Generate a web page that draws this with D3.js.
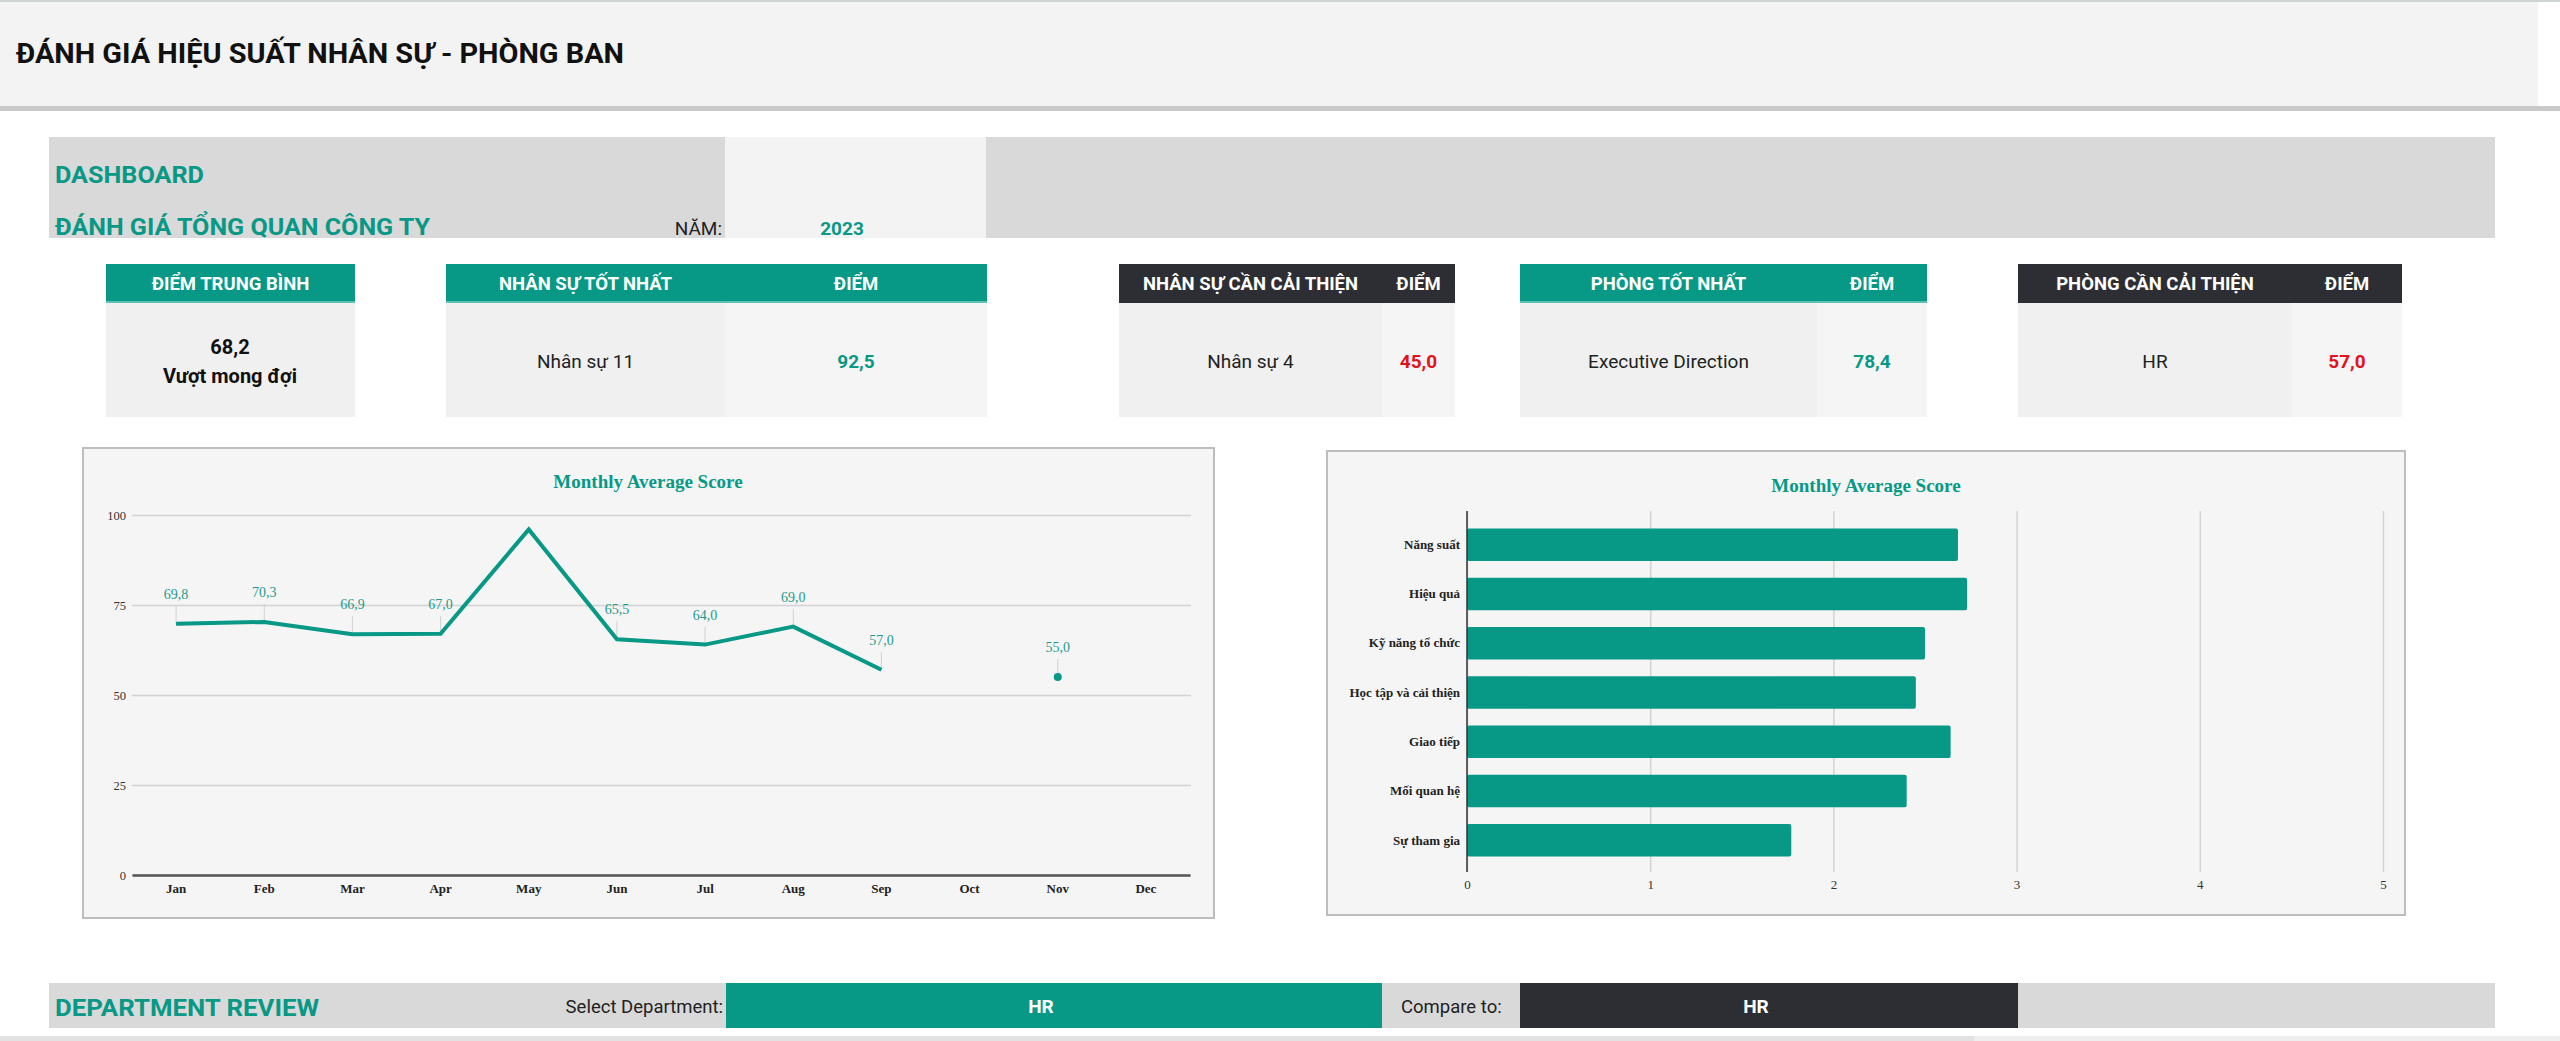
<!DOCTYPE html>
<html>
<head>
<meta charset="utf-8">
<script src="https://cdn.jsdelivr.net/npm/d3@7"></script>
<style>
  html, body { margin: 0; padding: 0; background: #fff; }
  svg { display: block; }
</style>
</head>
<body>
<svg id="dash"></svg>
<script>
// data
var months = ['Jan','Feb','Mar','Apr','May','Jun','Jul','Aug','Sep','Oct','Nov','Dec'];
var monthlyScores = [69.8, 70.3, 66.9, 67.0, 96.0, 65.5, 64.0, 69.0, 57.0, null, 55.0, null];
var unlabelledMonths = ['May'];
var yTicks = [0, 25, 50, 75, 100];

var criteria = ['Năng suất', 'Hiệu quả', 'Kỹ năng tổ chức', 'Học tập và cải thiện', 'Giao tiếp', 'Mối quan hệ', 'Sự tham gia'];
var criteriaScores = [2.68, 2.73, 2.50, 2.45, 2.64, 2.40, 1.77];
var xTicks = [0, 1, 2, 3, 4, 5];

var cardTitles = ['NHÂN SỰ TỐT NHẤT', 'NHÂN SỰ CẦN CẢI THIỆN', 'PHÒNG TỐT NHẤT', 'PHÒNG CẦN CẢI THIỆN'];
var cardNames = ['Nhân sự 11', 'Nhân sự 4', 'Executive Direction', 'HR'];
var cardScores = [92.5, 45.0, 78.4, 57.0];
var cardGood = [true, false, true, false];

var avgScore = 68.2;
var avgRating = 'Vượt mong đợi';
var year = 2023;
var selectedDept = 'HR';
var compareDept = 'HR';

var W = 2560, H = 1041;
var TEAL = '#079886', DARK = '#2d2e33', RED = '#e3121c';
var SANS = 'Roboto, "Noto Sans", sans-serif';
var SERIF = '"Liberation Serif", "DejaVu Serif", serif';

var vn = d3.formatLocale({decimal: ',', thousands: '.', grouping: [3], currency: ['', '']});
var fmt1 = vn.format('.1f');

var svg = d3.select('#dash').attr('width', W).attr('height', H)
    .style('font-family', SANS);

// header band
svg.append('rect').attr('x', 0).attr('y', 0).attr('width', W).attr('height', 2).attr('fill', '#cfd3d1');
svg.append('rect').attr('x', 0).attr('y', 2).attr('width', 2538).attr('height', 104).attr('fill', '#f3f3f3');
svg.append('rect').attr('x', 0).attr('y', 106).attr('width', W).attr('height', 5).attr('fill', '#c9c9c9');
svg.append('text').attr('x', 16).attr('y', 63)
    .attr('font-size', 28).attr('font-weight', 700).attr('fill', '#111')
    .attr('textLength', 608).attr('lengthAdjust', 'spacingAndGlyphs')
    .text('ĐÁNH GIÁ HIỆU SUẤT NHÂN SỰ - PHÒNG BAN');

// dashboard band
svg.append('rect').attr('x', 49).attr('y', 137).attr('width', 676).attr('height', 101).attr('fill', '#d9d9d9');
svg.append('rect').attr('x', 725).attr('y', 137).attr('width', 261).attr('height', 101).attr('fill', '#f3f3f3');
svg.append('rect').attr('x', 986).attr('y', 137).attr('width', 1509).attr('height', 101).attr('fill', '#d9d9d9');
svg.append('text').attr('x', 55).attr('y', 183)
    .attr('font-size', 24).attr('font-weight', 700).attr('fill', TEAL)
    .attr('textLength', 149).attr('lengthAdjust', 'spacingAndGlyphs')
    .text('DASHBOARD');
svg.append('text').attr('x', 55).attr('y', 235)
    .attr('font-size', 24).attr('font-weight', 700).attr('fill', TEAL)
    .attr('textLength', 375).attr('lengthAdjust', 'spacingAndGlyphs')
    .text('ĐÁNH GIÁ TỔNG QUAN CÔNG TY');
svg.append('text').attr('x', 722).attr('y', 235).attr('text-anchor', 'end')
    .attr('font-size', 19).attr('fill', '#222').text('NĂM:');
svg.append('text').attr('x', 842).attr('y', 235).attr('text-anchor', 'middle')
    .attr('font-size', 19).attr('font-weight', 700).attr('fill', TEAL).text(year);

// KPI cards
var HEAD_Y = 264, HEAD_H = 39, BODY_H = 114;

function cardHead(x, w, fill, label) {
    svg.append('rect').attr('x', x).attr('y', HEAD_Y).attr('width', w).attr('height', HEAD_H).attr('fill', fill);
    svg.append('text').attr('x', x + w / 2).attr('y', HEAD_Y + HEAD_H / 2).attr('dy', '0.36em')
        .attr('text-anchor', 'middle').attr('font-size', 18.5).attr('font-weight', 700)
        .attr('fill', '#fff').text(label);
}

// average score card
cardHead(106, 249, TEAL, 'ĐIỂM TRUNG BÌNH');
svg.append('rect').attr('x', 106).attr('y', HEAD_Y + HEAD_H - 2).attr('width', 249).attr('height', 2).attr('fill', '#5bc1b4');
svg.append('rect').attr('x', 106).attr('y', HEAD_Y + HEAD_H).attr('width', 249).attr('height', BODY_H).attr('fill', '#f0f0f0');
svg.append('text').attr('x', 230).attr('y', 347).attr('dy', '0.36em').attr('text-anchor', 'middle')
    .attr('font-size', 20).attr('font-weight', 700).attr('fill', '#111').text(fmt1(avgScore));
svg.append('text').attr('x', 230).attr('y', 376).attr('dy', '0.36em').attr('text-anchor', 'middle')
    .attr('font-size', 20).attr('font-weight', 700).attr('fill', '#111').text(avgRating);

// name / score cards: [left, split, right]
var cardBoxes = [[446, 725, 987], [1119, 1382, 1455], [1520, 1817, 1927], [2018, 2292, 2402]];
cardTitles.forEach(function(title, i) {
    var b = cardBoxes[i];
    var fill = cardGood[i] ? TEAL : DARK;
    cardHead(b[0], b[1] - b[0], fill, title);
    cardHead(b[1], b[2] - b[1], fill, 'ĐIỂM');
    if (cardGood[i]) {
        svg.append('rect').attr('x', b[0]).attr('y', HEAD_Y + HEAD_H - 2).attr('width', b[2] - b[0]).attr('height', 2).attr('fill', '#5bc1b4');
    }
    svg.append('rect').attr('x', b[0]).attr('y', HEAD_Y + HEAD_H).attr('width', b[1] - b[0]).attr('height', BODY_H).attr('fill', '#f0f0f0');
    svg.append('rect').attr('x', b[1]).attr('y', HEAD_Y + HEAD_H).attr('width', b[2] - b[1]).attr('height', BODY_H).attr('fill', '#f5f5f5');
    svg.append('text').attr('x', (b[0] + b[1]) / 2).attr('y', 361).attr('dy', '0.36em').attr('text-anchor', 'middle')
        .attr('font-size', 19).attr('fill', '#222').text(cardNames[i]);
    svg.append('text').attr('x', (b[1] + b[2]) / 2).attr('y', 361).attr('dy', '0.36em').attr('text-anchor', 'middle')
        .attr('font-size', 19).attr('font-weight', 700).attr('fill', cardGood[i] ? TEAL : RED).text(fmt1(cardScores[i]));
});

// line chart: monthly average score
var lc = svg.append('g');
lc.append('rect').attr('x', 83).attr('y', 448).attr('width', 1131).attr('height', 470)
    .attr('fill', '#f5f5f5').attr('stroke', '#bdbdbd').attr('stroke-width', 2);
lc.append('text').attr('x', 648).attr('y', 488).attr('text-anchor', 'middle')
    .attr('font-family', SERIF).attr('font-size', 19).attr('font-weight', 700).attr('fill', TEAL)
    .text('Monthly Average Score');

var x = d3.scaleBand().domain(months).range([132, 1190]);
var y = d3.scaleLinear().domain([0, 100]).range([875, 515]);

lc.append('g').attr('transform', 'translate(132,0)')
    .call(d3.axisLeft(y).tickValues(yTicks).tickSize(-(1191 - 132)).tickPadding(6))
    .call(function(g) {
        g.select('.domain').remove();
        g.selectAll('.tick line').attr('stroke', '#d3d3d3').attr('stroke-width', 1.5);
        g.selectAll('.tick text').attr('font-family', SERIF).attr('font-size', 12.5).attr('fill', '#333');
    });
lc.append('g').attr('transform', 'translate(0,875)')
    .call(d3.axisBottom(x).tickSize(0).tickPadding(9))
    .call(function(g) {
        g.select('.domain').attr('stroke', '#555').attr('stroke-width', 2.5);
        g.selectAll('.tick text').attr('font-family', SERIF).attr('font-size', 13)
            .attr('font-weight', 700).attr('fill', '#222');
    });

var pts = months.map(function(m, i) { return {m: m, v: monthlyScores[i], i: i}; });
var cx = function(d) { return x(d.m) + x.bandwidth() / 2; };
var line = d3.line().defined(function(d) { return d.v != null; })
    .x(cx).y(function(d) { return y(d.v); });

var labelled = pts.filter(function(d) { return d.v != null && unlabelledMonths.indexOf(d.m) < 0; });
lc.selectAll('line.leader').data(labelled).enter().append('line')
    .attr('class', 'leader')
    .attr('x1', cx).attr('x2', cx)
    .attr('y1', function(d) { return y(d.v) - 18; })
    .attr('y2', function(d) { return y(d.v); })
    .attr('stroke', '#d0d0d0').attr('stroke-width', 1);

lc.append('path').datum(pts).attr('d', line)
    .attr('fill', 'none').attr('stroke', TEAL).attr('stroke-width', 4);

// isolated points get a dot
var lone = pts.filter(function(d, i) {
    return d.v != null && (i === 0 || pts[i - 1].v == null) && (i === pts.length - 1 || pts[i + 1].v == null);
});
lc.selectAll('circle.lone').data(lone).enter().append('circle')
    .attr('class', 'lone').attr('cx', cx).attr('cy', function(d) { return y(d.v); })
    .attr('r', 4).attr('fill', TEAL);

lc.selectAll('text.lbl').data(labelled).enter().append('text')
    .attr('class', 'lbl')
    .attr('x', cx).attr('y', function(d) { return y(d.v) - 25; })
    .attr('text-anchor', 'middle').attr('font-family', SERIF).attr('font-size', 14)
    .attr('fill', '#1f9a8c').text(function(d) { return fmt1(d.v); });

// bar chart: criteria scores
var bc = svg.append('g');
bc.append('rect').attr('x', 1327).attr('y', 451).attr('width', 1078).attr('height', 464)
    .attr('fill', '#f5f5f5').attr('stroke', '#bdbdbd').attr('stroke-width', 2);
bc.append('text').attr('x', 1866).attr('y', 492).attr('text-anchor', 'middle')
    .attr('font-family', SERIF).attr('font-size', 19).attr('font-weight', 700).attr('fill', TEAL)
    .text('Monthly Average Score');

var bx = d3.scaleLinear().domain([0, 5]).range([1467, 2383]);
var by = d3.scaleBand().domain(criteria).range([520, 865]).paddingInner(0.34).paddingOuter(0.17);

bc.append('g').attr('transform', 'translate(0,872)')
    .call(d3.axisBottom(bx).tickValues(xTicks).tickFormat(d3.format('d')).tickSize(-(872 - 511)).tickPadding(8))
    .call(function(g) {
        g.select('.domain').remove();
        g.selectAll('.tick line').attr('stroke', '#d3d3d3').attr('stroke-width', 1.5);
        g.selectAll('.tick text').attr('font-family', SERIF).attr('font-size', 13).attr('fill', '#333');
    });

bc.selectAll('rect.bar').data(criteria).enter().append('rect')
    .attr('class', 'bar')
    .attr('x', bx(0)).attr('y', function(d) { return by(d); })
    .attr('width', function(d, i) { return bx(criteriaScores[i]) - bx(0); })
    .attr('height', by.bandwidth()).attr('rx', 2)
    .attr('fill', TEAL);

bc.append('g').attr('transform', 'translate(1467,0)')
    .call(d3.axisLeft(by).tickSize(0).tickPadding(7))
    .call(function(g) {
        g.select('.domain').remove();
        g.selectAll('.tick text').attr('font-family', SERIF).attr('font-size', 13)
            .attr('font-weight', 700).attr('fill', '#222');
    });
bc.append('line').attr('x1', 1467).attr('x2', 1467).attr('y1', 511).attr('y2', 872)
    .attr('stroke', '#333').attr('stroke-width', 1.5);

// department review row
svg.append('rect').attr('x', 49).attr('y', 983).attr('width', 2446).attr('height', 45).attr('fill', '#d9d9d9');
svg.append('rect').attr('x', 726).attr('y', 983).attr('width', 656).attr('height', 45).attr('fill', TEAL);
svg.append('rect').attr('x', 1520).attr('y', 983).attr('width', 498).attr('height', 45).attr('fill', DARK);
svg.append('text').attr('x', 55).attr('y', 1016)
    .attr('font-size', 24).attr('font-weight', 700).attr('fill', TEAL)
    .attr('textLength', 264).attr('lengthAdjust', 'spacingAndGlyphs')
    .text('DEPARTMENT REVIEW');
svg.append('text').attr('x', 723).attr('y', 1006).attr('dy', '0.36em').attr('text-anchor', 'end')
    .attr('font-size', 18.5).attr('fill', '#222').text('Select Department:');
svg.append('text').attr('x', 1041).attr('y', 1006).attr('dy', '0.36em').attr('text-anchor', 'middle')
    .attr('font-size', 19).attr('font-weight', 700).attr('fill', '#fff').text(selectedDept);
svg.append('text').attr('x', 1401).attr('y', 1006).attr('dy', '0.36em')
    .attr('font-size', 18.5).attr('fill', '#222').text('Compare to:');
svg.append('text').attr('x', 1756).attr('y', 1006).attr('dy', '0.36em').attr('text-anchor', 'middle')
    .attr('font-size', 19).attr('font-weight', 700).attr('fill', '#fff').text(compareDept);

// scrollbar strip at the bottom
svg.append('rect').attr('x', 0).attr('y', 1036).attr('width', W).attr('height', 5).attr('fill', '#eeeeee');
svg.append('rect').attr('x', 0).attr('y', 1036).attr('width', 1974).attr('height', 5).attr('fill', '#e2e2e2');
</script>
</body>
</html>
